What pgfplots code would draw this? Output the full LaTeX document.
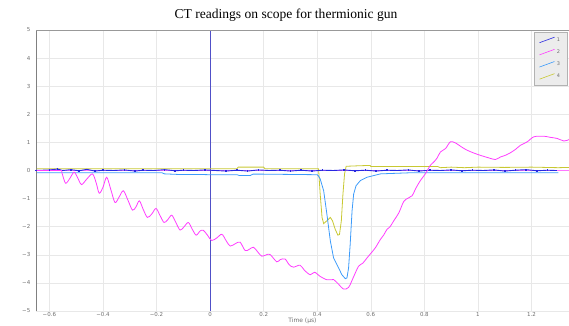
\documentclass[border=0pt]{standalone}
\usepackage{pgfplots}
\pgfplotsset{compat=1.18}
\usepackage{fontspec}
\setmainfont{DejaVu Sans}
\newfontfamily\titlefont{Liberation Serif}
\definecolor{cha}{RGB}{40,40,225}
\definecolor{chb}{RGB}{255,60,255}
\definecolor{chc}{RGB}{60,155,250}
\definecolor{chd}{RGB}{200,200,50}
\definecolor{vline}{RGB}{80,80,200}
\definecolor{tickgray}{RGB}{110,110,110}
\begin{document}
\begin{tikzpicture}[x=1bp,y=1bp]
\begin{axis}[
  scale only axis,
  width=533bp, height=281bp,
  xmin=-0.65, xmax=1.34,
  ymin=-5, ymax=5,
  axis line style={draw=none},
  major tick length=0pt,
  grid=major,
  major grid style={gray!18, line width=0.5bp},
  xtick={-0.6,-0.4,-0.2,0,0.2,0.4,0.6,0.8,1,1.2},
  xticklabels={−0.6,−0.4,−0.2,0,0.2,0.4,0.6,0.8,1,1.2},
  ytick={-5,-4,-3,-2,-1,0,1,2,3,4,5},
  yticklabels={−5,−4,−3,−2,−1,0,1,2,3,4,5},
  tick label style={font=\fontsize{5.5}{6}\selectfont, text=tickgray},
  xticklabel style={inner sep=0.5bp, yshift=-0.5bp},
  yticklabel style={inner sep=0.5bp, xshift=-5bp},
  xlabel={Time (µs)},
  xlabel style={font=\fontsize{6}{7}\selectfont, text=tickgray, inner sep=0bp, yshift=-1bp},
  legend style={at={(rel axis cs:0.9965,0.993)}, anchor=north east, fill=gray!15, draw=gray!60,
    font=\fontsize{5}{6}\selectfont, row sep=3bp, inner xsep=5bp, inner ysep=3.5bp, text=tickgray},
  legend cell align=left,
  legend image code/.code={\draw[#1] (0bp,-2.5bp) -- (15bp,3bp);},
  clip=true,
]
% zero reference line
\addplot[chb!70, line width=0.8bp, forget plot] coordinates {(-0.65,0) (1.34,0)};
% vertical cursor
\addplot[vline, line width=0.8bp, forget plot] coordinates {(0,-5) (0,5)};
% channel 4 (yellow)
\addplot[chd, line width=0.8bp, forget plot] coordinates {
(-0.65,0.06) (0.10,0.06) (0.105,0.12) (0.20,0.12) (0.205,0.06) (0.405,0.06)
(0.411,-0.84) (0.418,-1.67) (0.424,-1.89) (0.436,-1.79) (0.449,-1.67) (0.457,-1.79)
(0.467,-2.09) (0.477,-2.30) (0.483,-2.28) (0.490,-1.79) (0.496,-0.84) (0.502,-0.12)
(0.508,0.15) (0.56,0.17) (0.598,0.18) (0.60,0.14) (0.85,0.14) (0.86,0.10) (0.9,0.12)
(0.95,0.10) (1.0,0.12) (1.1,0.11) (1.2,0.12) (1.3,0.10) (1.34,0.11)};
% channel 3 (light blue)
\addplot[chc, line width=0.8bp, forget plot] coordinates {
(-0.65,-0.08) (-0.18,-0.08) (-0.17,-0.12) (-0.12,-0.14) (-0.05,-0.14) (0.0,-0.15)
(0.10,-0.15) (0.11,-0.18) (0.15,-0.18) (0.16,-0.13) (0.20,-0.13) (0.40,-0.15)
(0.405,-0.2) (0.411,-0.3) (0.424,-0.72) (0.436,-1.55) (0.449,-2.51) (0.461,-3.11)
(0.480,-3.47) (0.492,-3.71) (0.505,-3.85) (0.511,-3.82) (0.517,-3.47) (0.523,-2.63)
(0.530,-1.44) (0.536,-0.84) (0.545,-0.54) (0.561,-0.36) (0.586,-0.24) (0.636,-0.12)
(0.75,-0.08) (1.30,-0.08)};
% channel 1 (dark blue noise)
\addplot[cha, line width=0.9bp, mark=square*, mark size=0.35bp, forget plot] coordinates {
(-0.65,0.00) (-0.60,0.02) (-0.57,0.05) (-0.55,0.00) (-0.52,0.03) (-0.49,-0.01) (-0.46,0.04)
(-0.43,-0.02) (-0.40,0.01) (-0.36,0.00) (-0.32,0.02) (-0.28,-0.02) (-0.25,0.01) (-0.21,0.00)
(-0.17,0.03) (-0.13,-0.01) (-0.10,0.01) (-0.06,0.00) (-0.02,0.02) (0.02,0.00) (0.06,-0.02)
(0.10,0.01) (0.14,-0.02) (0.18,0.02) (0.22,0.00) (0.26,0.01) (0.30,-0.02) (0.34,0.01)
(0.38,-0.02) (0.42,0.01) (0.46,0.00) (0.50,0.02) (0.54,-0.01) (0.58,0.01) (0.62,-0.02)
(0.66,0.01) (0.70,0.00) (0.74,0.02) (0.78,-0.02) (0.82,0.01) (0.86,0.00) (0.90,0.02)
(0.94,-0.01) (0.98,0.01) (1.02,0.00) (1.06,0.02) (1.10,-0.02) (1.14,0.01) (1.18,0.03)
(1.22,-0.01) (1.26,0.01) (1.29,0.00)};
% channel 2 (magenta)
\addplot[chb, line width=0.8bp, smooth, tension=0.5, forget plot] coordinates {
(-0.65,0) (-0.56,0) (-0.554,-0.06) (-0.540,-0.45) (-0.525,-0.3) (-0.508,-0.06) (-0.495,-0.25)
(-0.480,-0.50) (-0.46,-0.3) (-0.439,-0.12) (-0.425,-0.45) (-0.414,-0.81) (-0.40,-0.6)
(-0.386,-0.24) (-0.37,-0.7) (-0.355,-1.14) (-0.34,-0.95) (-0.324,-0.72) (-0.307,-1.05)
(-0.290,-1.41) (-0.277,-1.3) (-0.264,-1.08) (-0.249,-1.4) (-0.234,-1.67) (-0.218,-1.55)
(-0.202,-1.35) (-0.187,-1.6) (-0.172,-1.85) (-0.158,-1.75) (-0.143,-1.59) (-0.128,-1.85)
(-0.112,-2.12) (-0.097,-2.0) (-0.081,-1.85) (-0.066,-2.1) (-0.052,-2.30) (-0.037,-2.15)
(-0.025,-2.13) (-0.01,-2.3) (0.006,-2.49) (0.025,-2.4) (0.044,-2.27) (0.06,-2.5)
(0.075,-2.69) (0.095,-2.6) (0.112,-2.55) (0.131,-2.85) (0.147,-2.8) (0.162,-2.73)
(0.178,-2.9) (0.193,-3.05) (0.210,-3.0) (0.224,-2.99) (0.249,-3.25) (0.262,-3.17)
(0.280,-3.15) (0.295,-3.35) (0.311,-3.44) (0.336,-3.37) (0.352,-3.55) (0.374,-3.71)
(0.390,-3.62) (0.411,-3.77) (0.436,-3.89) (0.449,-3.89) (0.461,-3.88) (0.480,-4.05)
(0.498,-4.22) (0.517,-4.16) (0.535,-3.8) (0.554,-3.41) (0.570,-3.3) (0.586,-3.11)
(0.600,-2.95) (0.617,-2.75) (0.636,-2.45) (0.648,-2.3) (0.660,-2.1) (0.672,-2.0)
(0.685,-1.8) (0.705,-1.5) (0.723,-1.1) (0.740,-0.98) (0.754,-0.9) (0.770,-0.6)
(0.785,-0.36) (0.805,-0.1) (0.822,0.18) (0.835,0.30) (0.848,0.45) (0.860,0.66)
(0.879,0.78) (0.897,1.02) (0.916,0.98) (0.940,0.83) (0.960,0.72) (0.985,0.62)
(1.009,0.54) (1.040,0.45) (1.065,0.39) (1.084,0.48) (1.105,0.55) (1.121,0.63)
(1.140,0.75) (1.159,0.90) (1.184,1.02) (1.209,1.20) (1.246,1.22) (1.270,1.18)
(1.296,1.14) (1.321,1.05) (1.340,1.10)};
% legend entries
\addlegendimage{cha, line width=0.6bp}\addlegendentry{1}
\addlegendimage{chb, line width=0.6bp}\addlegendentry{2}
\addlegendimage{chc, line width=0.6bp}\addlegendentry{3}
\addlegendimage{chd, line width=0.6bp}\addlegendentry{4}
% frame lines
\draw[gray, line width=1.2bp] (rel axis cs:0,0) -- (rel axis cs:0,1);
\draw[gray!80, line width=0.8bp] (rel axis cs:-0.055,1) -- (rel axis cs:1,1);
\draw[gray!60, line width=0.6bp] (rel axis cs:0,0) -- (rel axis cs:1,0);
\end{axis}
\node[anchor=base, font=\titlefont\fontsize{13.6}{16}\selectfont] at (250bp,292bp) {CT readings on scope for thermionic gun};
\pgfresetboundingbox
\path (-36bp,-15bp) rectangle (533bp,311bp);
\end{tikzpicture}
\end{document}
